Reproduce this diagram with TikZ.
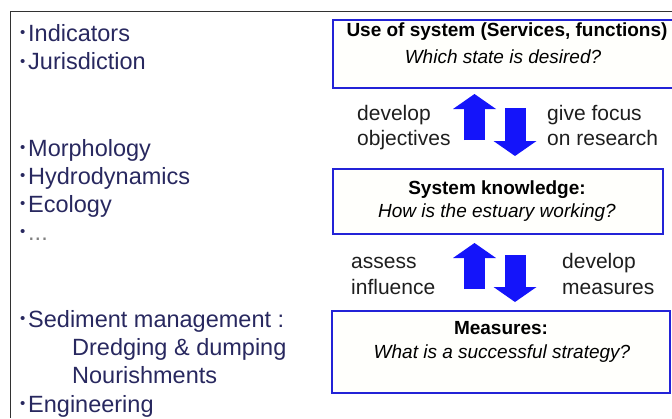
\documentclass[tikz,border=0pt]{standalone}
\usepackage{fontspec}
\setmainfont{Liberation Sans}
\usetikzlibrary{arrows.meta, calc}

\definecolor{boxblue}{RGB}{35,35,215}
\definecolor{boxfill}{RGB}{255,255,252}
\definecolor{arrowblue}{RGB}{20,20,250}
\definecolor{listnavy}{RGB}{40,40,95}
\definecolor{labelgray}{RGB}{30,30,30}
\definecolor{framegray}{RGB}{50,50,50}

\newcommand{\bul}{\makebox[8pt][l]{\fontsize{15}{15}\selectfont\raisebox{3.5pt}{•}}}
\newcommand{\upx}{474.5}
\newcommand{\downx}{515}

\begin{document}
\begin{tikzpicture}[x=1pt, y=-1pt,
	item/.style={anchor=base west, inner sep=0pt, text=listnavy, font=\fontsize{23.5}{28}\selectfont},
	sysbox/.style={draw=boxblue, line width=2pt, fill=boxfill, inner sep=0pt},
	boxhead/.style={anchor=base, inner sep=0pt, font=\fontsize{19}{23}\selectfont\bfseries},
	boxquest/.style={anchor=base, inner sep=0pt, font=\fontsize{19}{23}\selectfont\itshape},
	steplabel/.style={anchor=base west, inner sep=0pt, align=left, text=labelgray, font=\fontsize{21}{25.5}\selectfont},
	bigarrow/.style={line width=21pt, draw=arrowblue, -{Triangle[width=43pt, length=15pt, line width=0pt]}}]
	\clip (0,0) rectangle (672,418);
	\draw[framegray, line width=1pt] (10,418) -- (10,11) -- (672,11);
		% left column = topics
		\node[item] (ind)    at (20,  41) {\bul Indicators};
		\node[item] (jur)    at (20,69.5) {\bul Jurisdiction};
		\node[item] (morph)  at (20, 156) {\bul Morphology};
		\node[item] (hydro)  at (20, 184) {\bul Hydrodynamics};
		\node[item] (eco)    at (20, 212) {\bul Ecology};
		\node[item] (etc)    at (20, 240) {\bul\textcolor{gray}{...}};
		\node[item] (sed)    at (20, 327) {\bul Sediment management :};
		\node[item] (dredge) at (72, 355) {Dredging \& dumping};
		\node[item] (nour)   at (72,383.5) {Nourishments};
		\node[item] (eng)    at (20, 412) {\bul Engineering};
		% right column = boxes
		\node[sysbox, minimum width=351pt, minimum height=68pt] (use)  at (508.5,  54) {};
		\node[sysbox, minimum width=330pt, minimum height=65pt] (know) at (498,201.5) {};
		\node[sysbox, minimum width=338pt, minimum height=82pt] (meas) at (501,  352) {};
		\node[boxhead]  (use head)   at (507,  36) {Use of system (Services, functions)};
		\node[boxquest] (use quest)  at (503,  63) {Which state is desired?};
		\node[boxhead]  (know head)  at (497, 194) {System knowledge:};
		\node[boxquest] (know quest) at (497, 217) {How is the estuary working?};
		\node[boxhead]  (meas head)  at (501, 334) {Measures:};
		\node[boxquest] (meas quest) at (502, 358) {What is a successful strategy?};
		% arrows = steps
		\coordinate (upcol)   at (\upx,0);
		\coordinate (downcol) at (\downx,0);
		\draw[bigarrow, shorten <=28pt, shorten >=5pt]  (know.north -| upcol)   -- (use.south -| upcol);
		\draw[bigarrow, shorten <=19pt, shorten >=12pt] (use.south -| downcol)  -- (know.north -| downcol);
		\draw[bigarrow, shorten <=21pt, shorten >=8pt]  (meas.north -| upcol)   -- (know.south -| upcol);
		\draw[bigarrow, shorten <=20pt, shorten >=8pt]  (know.south -| downcol) -- (meas.north -| downcol);
		\node[steplabel] (dev obj)  at (357, 145.5) {develop\\objectives};
		\node[steplabel] (focus)    at (547, 145.5) {give focus\\on research};
		\node[steplabel] (assess)   at (351, 294) {assess\\influence};
		\node[steplabel] (dev meas) at (562, 294) {develop\\measures};
\end{tikzpicture}
\end{document}
